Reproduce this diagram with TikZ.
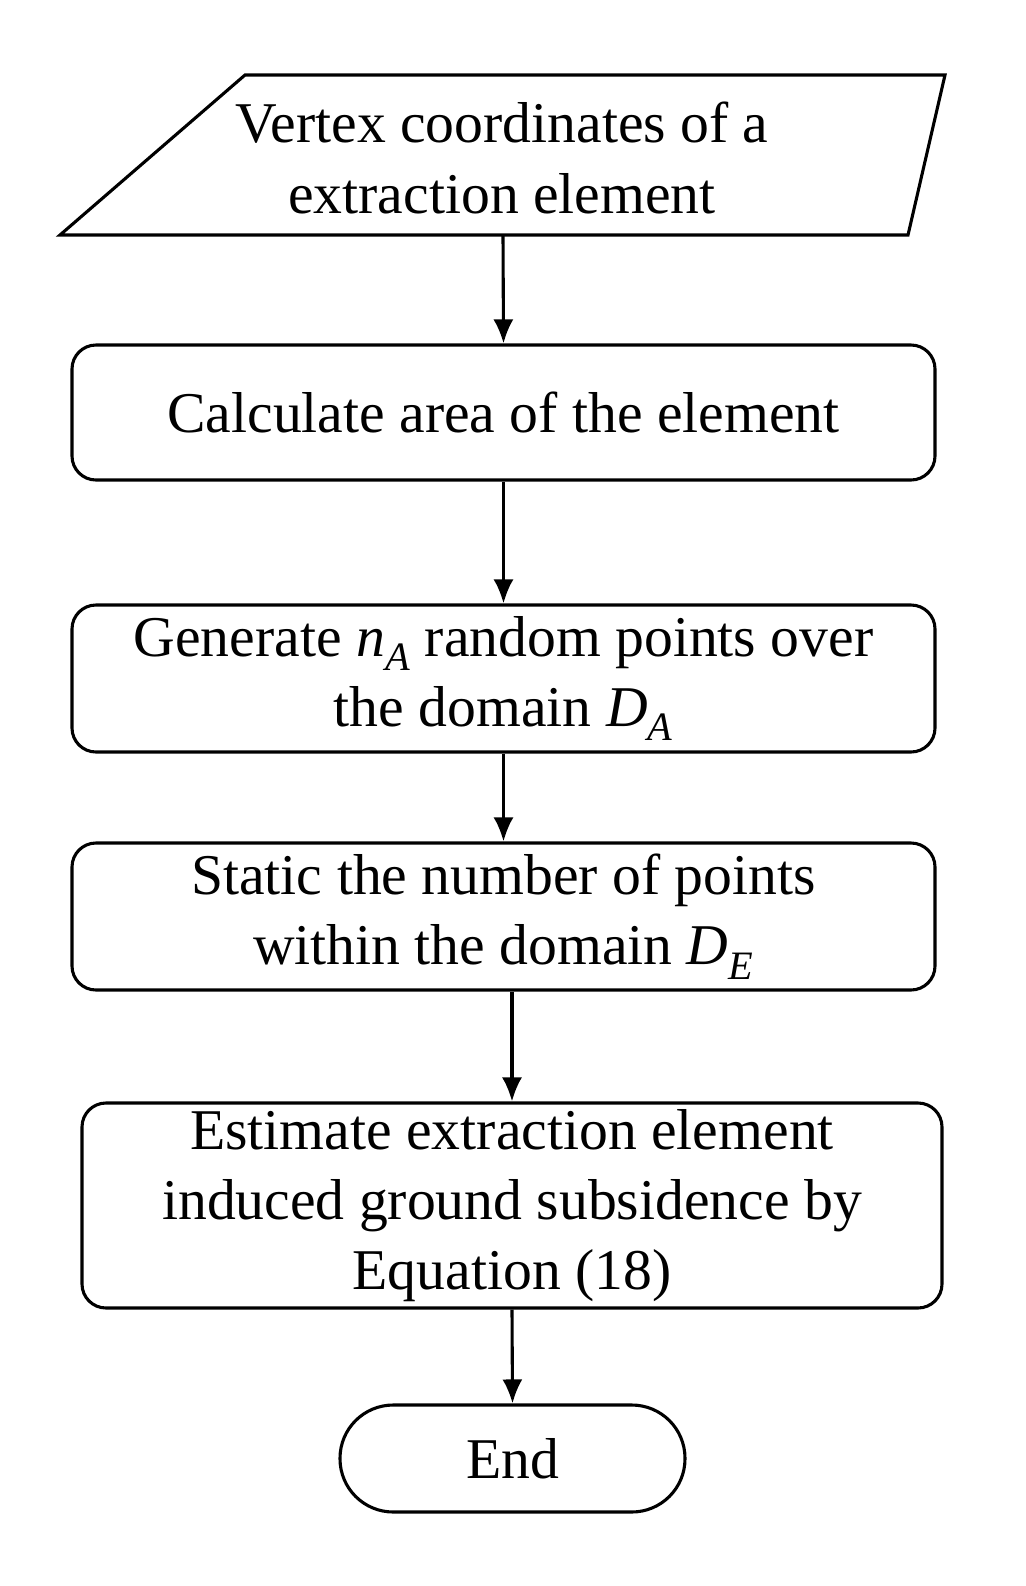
\documentclass[tikz,border=0pt]{standalone}
\usepackage{fontspec}
\setmainfont{Liberation Serif}
\usetikzlibrary{arrows.meta}
\newcommand{\vsub}[2]{\textit{#1}\textsubscript{\textit{#2}}}
\begin{document}
\begin{tikzpicture}[x=0.025cm,y=-0.025cm,
  box/.style={draw,line width=2.2pt,rounded corners=0.6cm,align=center,font=\fontsize{41}{50}\selectfont},
  txt/.style={align=center,font=\fontsize{41}{50}\selectfont},
  arr/.style={-{Latex[length=0.6cm,width=0.5cm]},line width=2.2pt}]
\useasboundingbox (0,0) rectangle (1026,1586);
\draw[line width=2.2pt] (245,75) -- (945,75) -- (908,235) -- (60,235) -- cycle;
\node[txt] (n1) at (502,158) {Vertex coordinates of a\\extraction element};
\coordinate (n1b) at (503,235);
\node[box,minimum width=863*0.025cm,minimum height=135*0.025cm] (n2) at (503.5,412.5) {Calculate area of the element};
\node[box,minimum width=863*0.025cm,minimum height=147*0.025cm] (n3) at (503.5,678.5) {Generate \vsub{n}{A} random points over\\the domain \vsub{D}{A}};
\node[box,minimum width=863*0.025cm,minimum height=147*0.025cm] (n4) at (503.5,916.5) {Static the number of points\\within the domain \vsub{D}{E}};
\node[box,minimum width=860*0.025cm,minimum height=205*0.025cm] (n5) at (512,1205.5) {Estimate extraction element\\induced ground subsidence by\\Equation (18)};
\node[box,rounded corners=1.33cm,minimum width=345*0.025cm,minimum height=107*0.025cm] (n6) at (512.5,1458.5) {End};
\draw[arr] (n1b) -- (n2.north);
\draw[arr] (n2.south) -- (n3.north);
\draw[arr] (n3.south) -- (n4.north);
\draw[arr] (n4.south -| n5.north) -- (n5.north);
\draw[arr] (n5.south) -- (n6.north);
\end{tikzpicture}
\end{document}
